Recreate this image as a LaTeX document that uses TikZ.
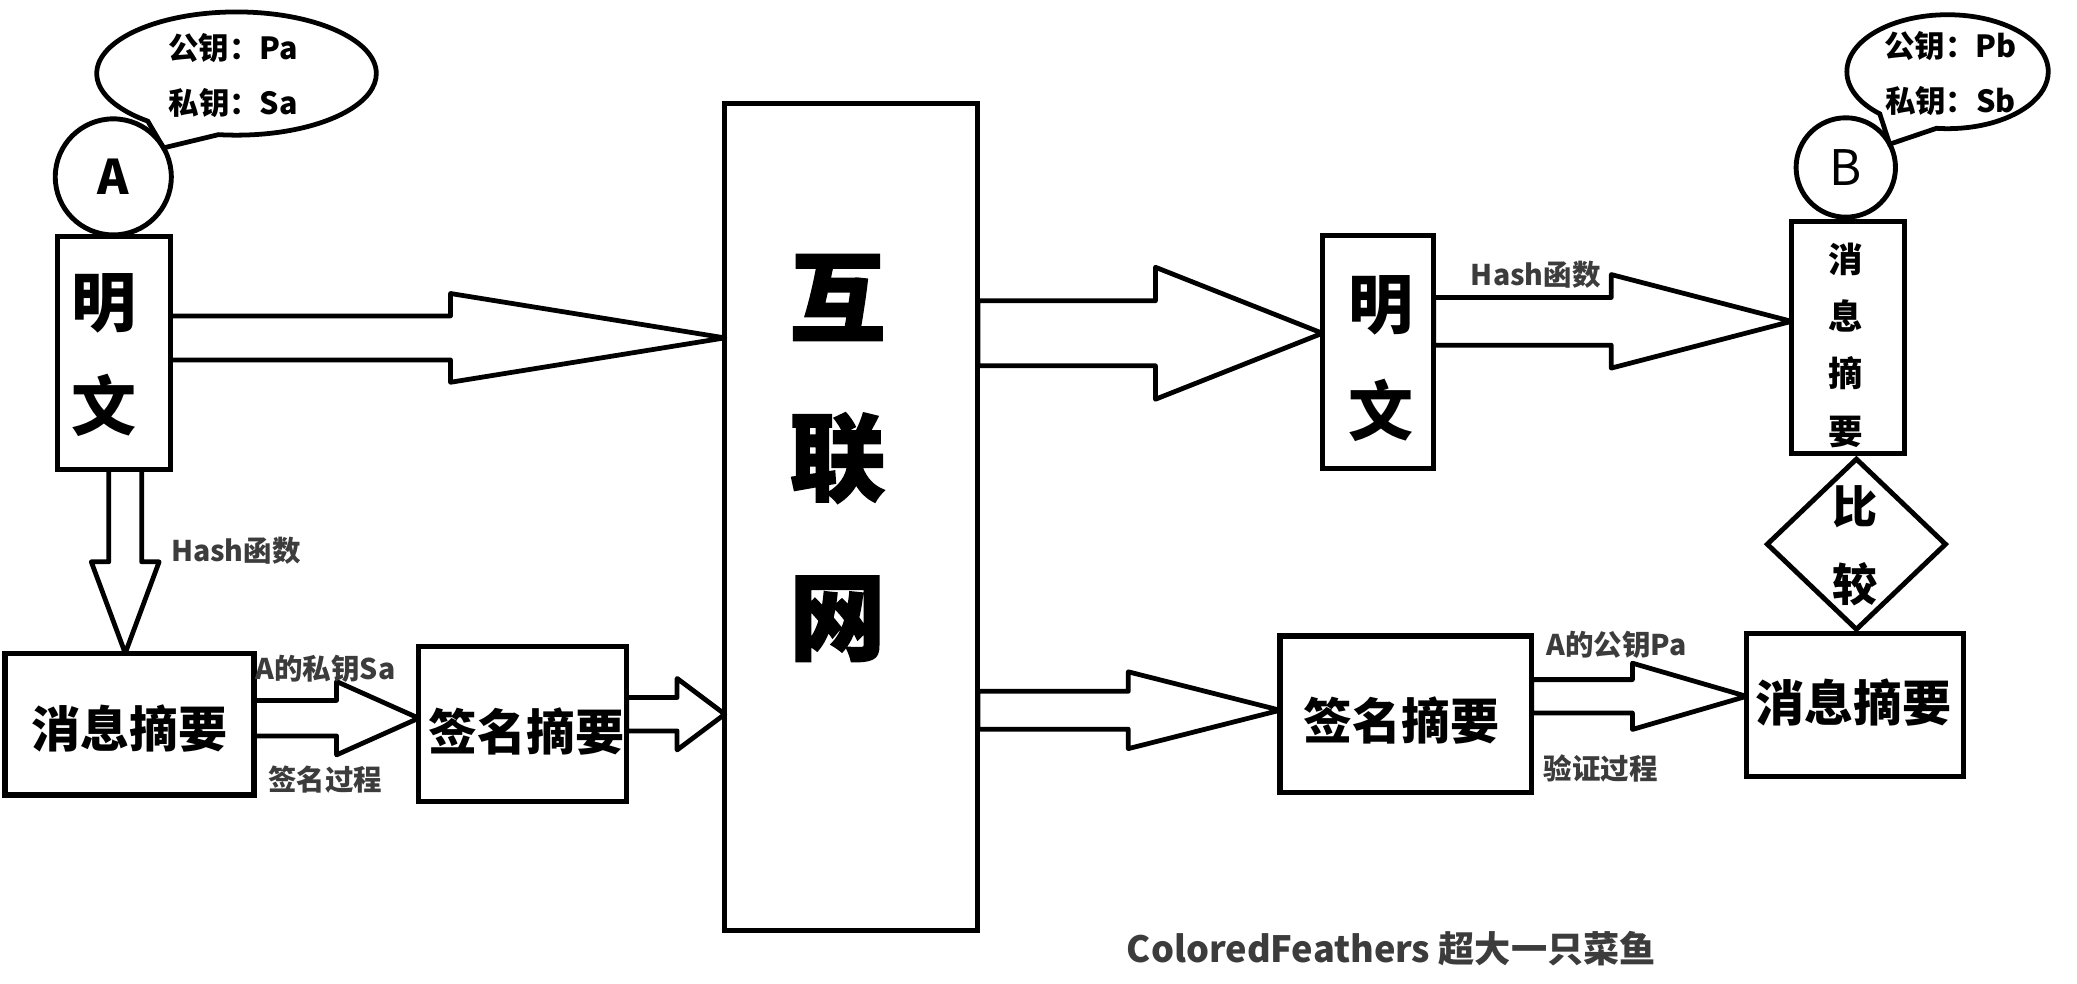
\documentclass[tikz,border=0pt]{standalone}
\usepackage{fontspec}
\setmainfont{Noto Sans CJK SC}
\newfontfamily\heavyfont{Noto Sans CJK SC}[BoldFeatures={FakeBold=2}]
\usetikzlibrary{calc,shapes.geometric,shapes.callouts}
\definecolor{lblgray}{HTML}{3C3C3C}
% horizontal block arrow: #1 start, #2 tip, #3 head length, #4 shaft half width, #5 head half width
\newcommand\harr[5]{\draw[blk] let \p1=(#1), \p2=(#2) in (\x1,\y2+#4) -- (\x2-#3,\y2+#4) -- (\x2-#3,\y2+#5) -- (\x2,\y2) -- (\x2-#3,\y2-#5) -- (\x2-#3,\y2-#4) -- (\x1,\y2-#4) -- cycle;}
% vertical (downward) block arrow
\newcommand\varr[5]{\draw[blk] let \p1=(#1), \p2=(#2) in (\x2-#4,\y1) -- (\x2-#4,\y2+#3) -- (\x2-#5,\y2+#3) -- (\x2,\y2) -- (\x2+#5,\y2+#3) -- (\x2+#4,\y2+#3) -- (\x2+#4,\y1);}
\tikzset{
  box/.style={draw, line width=3.9pt, inner sep=0pt, outer sep=0pt},
  blk/.style={draw, line width=3.6pt, line join=round},
  head/.style={circle, draw, line width=3.7pt, inner sep=0pt, outer sep=0pt},
  bubble/.style={ellipse callout, draw, line width=3.6pt, inner sep=0pt, outer sep=0pt},
  keytxt/.style={font=\fontsize{23}{41.5}\selectfont\bfseries, align=center, inner sep=0pt},
  lbl/.style={font=\fontsize{21.5}{24}\selectfont\bfseries, text=lblgray, inner sep=0pt},
  bigtxt/.style={font=\fontsize{37}{40}\selectfont\bfseries, inner sep=0pt},
}
\begin{document}
\begin{tikzpicture}[x=1pt,y=-1pt]
\useasboundingbox (0,0) rectangle (1567.5,742);
% ---------- sender A ----------
\node[head, minimum size=87.6, font=\fontsize{36}{36}\selectfont\bfseries] (cA) at (85.5,133.5) {A};
\node[bubble, minimum width=211, minimum height=93, callout absolute pointer={(cA.30)}, callout pointer arc=32] (bubA) at (178.5,55.5) {};
\node[keytxt] (kA) at (176,57) {公钥：Pa\\私钥：Sa};
\node[box, minimum width=85, minimum height=176] (MA) at (86.2,266.6) {};
\node[font=\fontsize{49}{78}\selectfont\bfseries, align=center, inner sep=0pt] (MAt) at (78.6,268) {明\\文};
\node[box, minimum width=188, minimum height=107] (XA) at (97.75,546.5) {};
\node[bigtxt] (XAt) at (97.7,549.6) {消息摘要};
\node[box, minimum width=157, minimum height=117] (QA) at (394.5,546.5) {};
\node[bigtxt] (QAt) at (397.4,552) {签名摘要};
% ---------- internet ----------
\node[box, minimum width=191, minimum height=624] (NET) at (642.5,390) {};
\node[font=\fontsize{72}{120.5}\selectfont\heavyfont\bfseries, align=center, inner sep=0pt] (NETt) at (632,345.7) {互\\联\\网};
% ---------- receiver B ----------
\node[box, minimum width=84, minimum height=175.5] (MB) at (1040,265.75) {};
\node[font=\fontsize{49}{81}\selectfont\bfseries, align=center, inner sep=0pt] (MBt) at (1042,270.5) {明\\文};
\node[box, minimum width=85, minimum height=175] (XB) at (1394.5,254.5) {};
\node[font=\fontsize{26}{43.3}\selectfont\bfseries, align=center, inner sep=0pt] (XBt) at (1393,260.5) {消\\息\\摘\\要};
\node[head, minimum size=75, font=\fontsize{37}{37}\selectfont] (cB) at (1393,126.4) {B};
\node[bubble, minimum width=152, minimum height=86, callout absolute pointer={(cB.28)}, callout pointer arc=36] (bubB) at (1469.8,54.1) {};
\node[keytxt] (kB) at (1472,55.5) {公钥：Pb\\私钥：Sb};
\node[diamond, draw, line width=3.7pt, inner sep=0pt, minimum width=136, minimum height=130] (CMP) at (1401,410.7) {};
\node[font=\fontsize{34}{59}\selectfont\bfseries, align=center, inner sep=0pt] (CMPt) at (1400,412) {比\\较};
\node[box, minimum width=164, minimum height=108] (XB2) at (1400,532) {};
\node[bigtxt] (XB2t) at (1399,530) {消息摘要};
\node[box, minimum width=190, minimum height=118] (QB) at (1061,539) {};
\node[bigtxt] (QBt) at (1058,543.6) {签名摘要};
% ---------- block arrows ----------
\harr{MA.east}{NET.west |- 0,255}{207pt}{16.6pt}{33.5pt}
\varr{MA.south}{94.5,0 |- XA.north}{69pt}{12.4pt}{25.6pt}
\harr{XA.east}{QA.west |- 0,542}{62pt}{13.4pt}{27.7pt}
\harr{QA.east}{NET.west |- 0,539}{36pt}{12.6pt}{27pt}
\harr{NET.east}{MB.west |- 0,251.5}{126pt}{24.5pt}{49.8pt}
\harr{MB.east}{XB.west |- 0,242.5}{136pt}{18pt}{35.3pt}
\harr{NET.east}{QB.west |- 0,536}{114.5pt}{14.3pt}{29pt}
\harr{QB.east}{XB2.west |- 0,525.5}{86pt}{12.6pt}{25pt}
% ---------- labels ----------
\node[lbl] (h1) at (178,416) {Hash函数};
\node[lbl] (s1) at (245.6,504.4) {A的私钥Sa};
\node[lbl] (s2) at (245.6,588.6) {签名过程};
\node[lbl] (h2) at (1159,207) {Hash函数};
\node[lbl] (v1) at (1220,487) {A的公钥Pa};
\node[lbl] (v2) at (1208,580) {验证过程};
\node[font=\fontsize{27.3}{30}\selectfont\bfseries, text=lblgray, inner sep=0pt] (wm) at (1050,716) {ColoredFeathers 超大一只菜鱼};
\end{tikzpicture}
\end{document}
